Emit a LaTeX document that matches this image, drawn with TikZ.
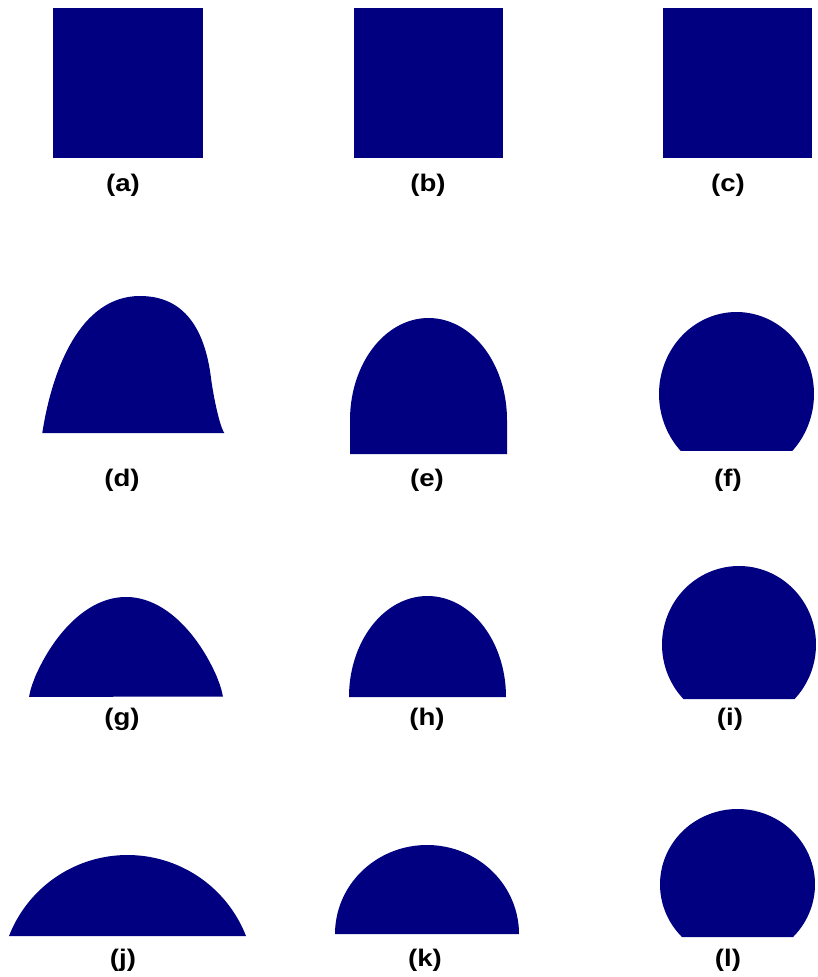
\documentclass[tikz,border=0pt]{standalone}
\usepackage{fontspec}
\setmainfont{Liberation Sans}
\definecolor{navyfill}{RGB}{0,0,128}
\tikzset{
  shapefill/.style={fill=navyfill, draw=none},
  lbl/.style={font=\fontsize{24}{28}\selectfont\bfseries, anchor=base, inner sep=0pt, text=black}
}
\newcommand{\lbltext}[1]{\scalebox{1.15}[1]{#1}}
\begin{document}
\begin{tikzpicture}[x=1pt,y=-1pt]
\useasboundingbox (0,0) rectangle (817,977);
\fill[white] (0,0) rectangle (817,977);
% row 1: squares
\fill[shapefill] (53,8) rectangle (203,158);
\fill[shapefill] (354,8) rectangle (503,158);
\fill[shapefill] (663,8) rectangle (812,158);
% (d)
\fill[shapefill] (42.3,433) .. controls (52,370) and (80,296) .. (140,296)
  .. controls (185,296) and (205,330) .. (211,378)
  .. controls (212.9,393) and (219,425) .. (224.3,433) -- cycle;
% (e)
\fill[shapefill] (350,454) -- plot[domain=180:360, samples=90] ({428.5+78.5*cos(\x)},{420+102*sin(\x)}) -- (507,454) -- cycle;
% (f)
\fill[shapefill] plot[domain=136:404, samples=120] ({736.5+77.5*cos(\x)},{394+82*sin(\x)}) -- cycle;
% (g)
\fill[shapefill] plot[domain=-1:1, samples=121] ({126+97*\x},{697-100*(max(1-\x*\x,0.0001))^0.769}) -- cycle;
% (h)
\fill[shapefill] plot[domain=180:360, samples=90] ({427.5+78.5*cos(\x)},{697+101*sin(\x)}) -- cycle;
% (i)
\fill[shapefill] plot[domain=136:404, samples=120] ({739+77*cos(\x)},{644.6+78.6*sin(\x)}) -- cycle;
% (j)
\fill[shapefill] plot[domain=201.3:338.7, samples=90] ({127.5+127.2*cos(\x)},{982.2+127.2*sin(\x)}) -- cycle;
% (k)
\fill[shapefill] plot[domain=180:360, samples=90] ({427+92*cos(\x)},{934+89*sin(\x)}) -- cycle;
% (l)
\fill[shapefill] plot[domain=135.7:404.3, samples=120] ({737.5+77.5*cos(\x)},{884.4+75.4*sin(\x)}) -- cycle;
% labels
\node[lbl] (la) at (123,191) {\lbltext{(a)}};
\node[lbl] (lb) at (428,191) {\lbltext{(b)}};
\node[lbl] (lc) at (728,191) {\lbltext{(c)}};
\node[lbl] (ld) at (122,486.5) {\lbltext{(d)}};
\node[lbl] (le) at (427,486.5) {\lbltext{(e)}};
\node[lbl] (lf) at (728,486.5) {\lbltext{(f)}};
\node[lbl] (lg) at (122,725.5) {\lbltext{(g)}};
\node[lbl] (lh) at (427,725.5) {\lbltext{(h)}};
\node[lbl] (li) at (730,725.5) {\lbltext{(i)}};
\node[lbl] (lj) at (123,966) {\lbltext{(j)}};
\node[lbl] (lk) at (425,966) {\lbltext{(k)}};
\node[lbl] (ll) at (728,966) {\lbltext{(l)}};
\end{tikzpicture}
\end{document}
